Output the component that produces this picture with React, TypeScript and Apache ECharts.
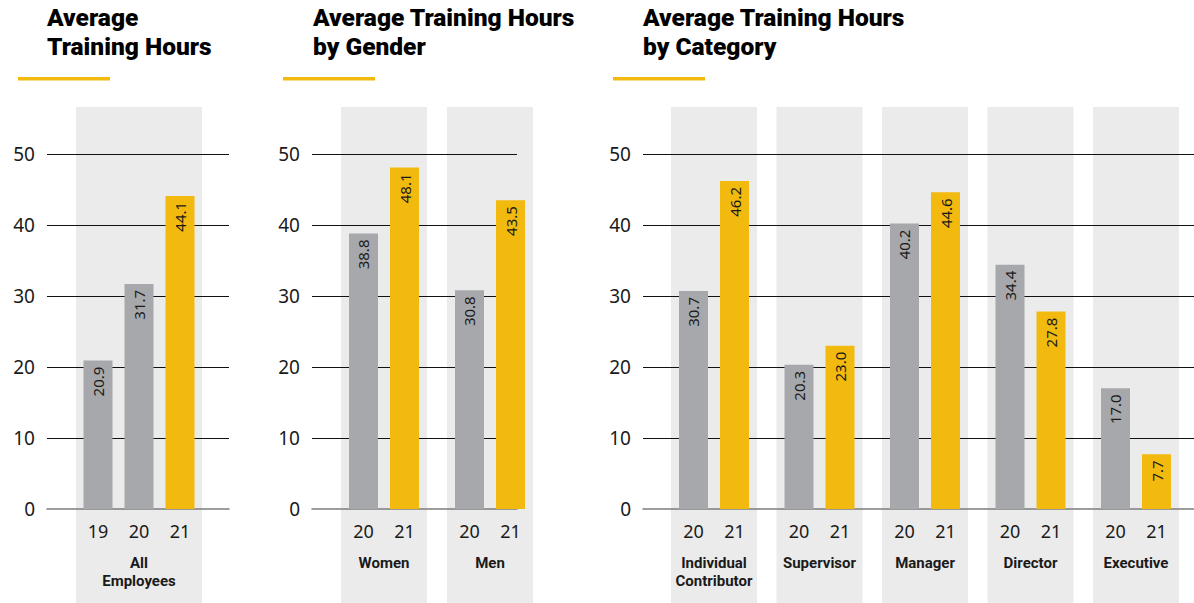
import React, { useEffect, useRef } from "react";
import * as echarts from "echarts";

// ---- data ----
const years1 = ["19", "20", "21"];
const groups1 = ["All\nEmployees"];
const values1 = [20.9, 31.7, 44.1];

const years2 = ["20", "21"];
const groups2 = ["Women", "Men"];
const gender20 = [38.8, 30.8];
const gender21 = [48.1, 43.5];

const years3 = ["20", "21"];
const groups3 = ["Individual\nContributor", "Supervisor", "Manager", "Director", "Executive"];
const cat20 = [30.7, 20.3, 40.2, 34.4, 17.0];
const cat21 = [46.2, 23.0, 44.6, 27.8, 7.7];

const titles = [
  "Average\nTraining Hours",
  "Average Training Hours\nby Gender",
  "Average Training Hours\nby Category",
];
const yMin = 0;
const yMax = 50;
const yInterval = 10;

// ---- styles ----
const GRAY = "#a7a8ab";
const YELLOW = "#f2b90f";
const BAND = "#ebebeb";
const TEXT = "#1a1a1a";
const FONT = "'Noto Sans', Roboto, sans-serif";
const TITLE_FONT = "Roboto, 'Noto Sans', sans-serif";

export default function App() {
  const ref = useRef<HTMLDivElement>(null);

  useEffect(() => {
    if (!ref.current) return;
    const chart = echarts.init(ref.current, undefined, { renderer: "svg" });

    const panels = [
      {
        years: years1,
        groups: groups1,
        series: [
          { values: [values1[0]], color: GRAY },
          { values: [values1[1]], color: GRAY },
          { values: [values1[2]], color: YELLOW },
        ],
        lineLeft: 47,
        lineWidth: 182,
        barLeft: 76,
        barW: 126,
        bandW: 126,
        titleX: 47,
        ulX: 18,
      },
      {
        years: years2,
        groups: groups2,
        series: [
          { values: gender20, color: GRAY },
          { values: gender21, color: YELLOW },
        ],
        lineLeft: 312,
        lineWidth: 205,
        barLeft: 331,
        barW: 212,
        bandW: 86,
        titleX: 313,
        ulX: 283,
      },
      {
        years: years3,
        groups: groups3,
        series: [
          { values: cat20, color: GRAY },
          { values: cat21, color: YELLOW },
        ],
        lineLeft: 643,
        lineWidth: 551,
        barLeft: 661.25,
        barW: 527.5,
        bandW: 86,
        titleX: 643,
        ulX: 613,
      },
    ];

    const grid: any[] = [];
    const xAxis: any[] = [];
    const yAxis: any[] = [];
    const series: any[] = [];
    const graphic: any[] = [];

    panels.forEach((p, i) => {
      const gBand = grid.length;
      grid.push({ left: p.barLeft, width: p.barW, top: 107, height: 496 });
      xAxis.push({ type: "category", gridIndex: gBand, data: p.groups, show: false });
      yAxis.push({ type: "value", gridIndex: gBand, min: 0, max: 1, show: false });
      series.push({
        type: "bar",
        xAxisIndex: gBand,
        yAxisIndex: gBand,
        data: p.groups.map(() => 1),
        barWidth: p.bandW,
        itemStyle: { color: BAND },
        z: -1,
        silent: true,
      });

      const gLine = grid.length;
      grid.push({ left: p.lineLeft, width: p.lineWidth, top: 154, height: 355 });
      xAxis.push({
        type: "category",
        gridIndex: gLine,
        data: [""],
        axisLabel: { show: false },
        axisTick: { show: false },
        axisLine: { show: true, lineStyle: { color: "#7d7d7d", width: 1.5 } },
        z: 1,
      });
      yAxis.push({
        type: "value",
        gridIndex: gLine,
        min: yMin,
        max: yMax,
        interval: yInterval,
        axisLine: { show: false },
        axisTick: { show: false },
        axisLabel: { fontSize: 19, color: TEXT, fontFamily: FONT, margin: 12 },
        splitLine: { show: true, showMinLine: false, lineStyle: { color: "#111", width: 1 } },
        z: 0,
      });

      const gBar = grid.length;
      grid.push({ left: p.barLeft, width: p.barW, top: 154, height: 355 });
      const cellW = 41;
      xAxis.push({
        type: "category",
        gridIndex: gBar,
        data: p.groups,
        axisLine: { show: false },
        axisTick: { show: false },
        axisLabel: {
          interval: 0,
          margin: 7,
          formatter: (v: string) => {
            const yrs = p.years.map((y) => `{y|${y}}`).join("");
            const g = v
              .split("\n")
              .map((s) => `{g|${s}}`)
              .join("\n");
            return `${yrs}\n{gap| }\n${g}`;
          },
          rich: {
            y: {
              width: cellW,
              align: "center",
              fontSize: 18,
              lineHeight: 30,
              color: TEXT,
              fontFamily: FONT,
            },
            gap: { fontSize: 4, lineHeight: 8 },
            g: {
              fontSize: 15,
              lineHeight: 18,
              fontWeight: "bold",
              color: TEXT,
              fontFamily: TITLE_FONT,
              align: "center",
            },
          },
        },
      });
      yAxis.push({
        type: "value",
        gridIndex: gBar,
        min: yMin,
        max: yMax,
        show: false,
        splitLine: { show: false },
      });
      p.series.forEach((s) => {
        series.push({
          type: "bar",
          xAxisIndex: gBar,
          yAxisIndex: gBar,
          data: s.values,
          barWidth: 29,
          barGap: "41.4%",
          itemStyle: { color: s.color },
          z: 3,
          label: {
            show: true,
            position: "insideTop",
            rotate: 90,
            align: "right",
            verticalAlign: "middle",
            distance: 6,
            fontSize: 15,
            color: TEXT,
            fontFamily: FONT,
            formatter: (d: any) => Number(d.value).toFixed(1),
          },
        });
      });

      graphic.push({
        type: "text",
        left: p.titleX,
        top: 3,
        style: {
          text: titles[i],
          fontSize: 24.5,
          fontWeight: 900,
          lineHeight: 29,
          fill: "#000",
          fontFamily: TITLE_FONT,
        },
      });
      graphic.push({
        type: "rect",
        shape: { x: p.ulX, y: 77, width: 92, height: 3.5 },
        style: { fill: YELLOW },
      });
    });

    chart.setOption({
      animation: false,
      backgroundColor: "#fff",
      grid,
      xAxis,
      yAxis,
      series,
      graphic,
    });

    return () => chart.dispose();
  }, []);

  return (
    <div
      ref={ref}
      style={{ position: "absolute", left: 0, top: 0, width: 1194, height: 603 }}
    />
  );
}
